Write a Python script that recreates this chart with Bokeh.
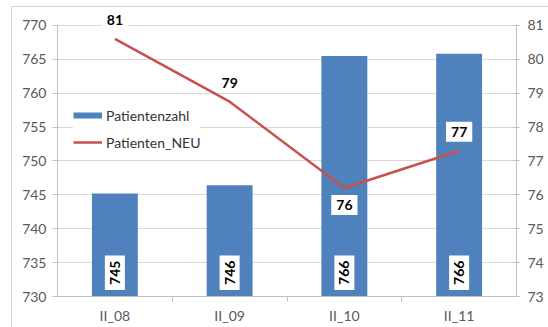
import numpy as np
from bokeh.plotting import figure
from bokeh.models import (ColumnDataSource, LinearAxis, Range1d, FixedTicker,
                          Label, Legend, LegendItem)
from bokeh.embed import file_html
from bokeh.resources import INLINE

# Quarterly patient figures
quarters = ["II_08", "II_09", "II_10", "II_11"]
patientenzahl = [745.2, 746.4, 765.5, 765.8]   # bars, left axis
patienten_neu = [80.6, 78.75, 76.2, 77.3]      # line, right axis

left_ticks = [730, 735, 740, 745, 750, 755, 760, 765, 770]
right_ticks = [73, 74, 75, 76, 77, 78, 79, 80, 81]

FONT = "Lato"
TICK_COLOR = "#595959"
AXIS_COLOR = "#bfbfbf"
GRID_COLOR = "#d9d9d9"
BAR_COLOR = "#4F81BD"
LINE_COLOR = "#C8504D"

# headroom above the top tick so the topmost value label stays inside the frame
HEAD = 2.05
left_top = left_ticks[-1] + HEAD
right_top = right_ticks[-1] + HEAD * (right_ticks[-1] - right_ticks[0]) / (left_ticks[-1] - left_ticks[0])

# category centres on a numeric axis so that ticks can sit between categories
xs = [i + 0.5 for i in range(len(quarters))]

src = ColumnDataSource(dict(x=xs, pz=patientenzahl, neu=patienten_neu))

p = figure(width=537, height=321,
           x_range=Range1d(0, len(quarters)),
           y_range=Range1d(left_ticks[0], left_top),
           output_backend="svg", toolbar_location=None,
           min_border_left=45, min_border_right=33,
           min_border_top=4, min_border_bottom=32)
p.margin = (6, 0, 0, 11)
p.styles = {"border-left": "1px solid #d4d4d4", "border-top": "1px solid #d4d4d4"}
p.outline_line_color = None
p.background_fill_color = "white"
p.border_fill_color = "white"

p.extra_y_ranges = {"neu": Range1d(right_ticks[0], right_top)}

bars = p.vbar(x="x", top="pz", bottom=left_ticks[0], width=0.4,
              source=src, fill_color=BAR_COLOR, line_color=None)
line = p.line(x="x", y="neu", y_range_name="neu", source=src,
              line_color=LINE_COLOR, line_width=2.5)

# grid
p.xgrid.visible = False
p.ygrid.grid_line_color = GRID_COLOR
p.ygrid.ticker = FixedTicker(ticks=left_ticks)

# left axis
yl = p.yaxis[0]
yl.ticker = FixedTicker(ticks=left_ticks)
yl.bounds = (left_ticks[0], left_ticks[-1])
yl.axis_line_color = AXIS_COLOR
yl.major_tick_line_color = AXIS_COLOR
yl.major_tick_in = 0
yl.major_tick_out = 5
yl.minor_tick_line_color = None
yl.major_label_text_font = FONT
yl.major_label_text_font_size = "14px"
yl.major_label_text_color = TICK_COLOR
yl.major_label_standoff = 6

# right axis
yr = LinearAxis(y_range_name="neu", ticker=FixedTicker(ticks=right_ticks))
yr.bounds = (right_ticks[0], right_ticks[-1])
yr.axis_line_color = AXIS_COLOR
yr.major_tick_line_color = AXIS_COLOR
yr.major_tick_in = 4
yr.major_tick_out = 3
yr.minor_tick_line_color = None
yr.major_label_text_font = FONT
yr.major_label_text_font_size = "14px"
yr.major_label_text_color = TICK_COLOR
yr.major_label_standoff = 8
p.add_layout(yr, "right")

# bottom axis: labels at centres, tick marks between categories
xa = p.xaxis[0]
xa.ticker = FixedTicker(ticks=xs, minor_ticks=[1, 2, 3])
xa.major_label_overrides = {x: q for x, q in zip(xs, quarters)}
xa.axis_line_color = AXIS_COLOR
xa.major_tick_line_color = None
xa.minor_tick_line_color = AXIS_COLOR
xa.minor_tick_in = 0
xa.minor_tick_out = 5
xa.major_label_text_font = FONT
xa.major_label_text_font_size = "14px"
xa.major_label_text_color = TICK_COLOR
xa.major_label_standoff = 4

label_style = dict(text_align="center", text_baseline="middle",
                   text_font=FONT, text_font_style="bold", text_font_size="14px",
                   text_color="black", background_fill_color="white")

# bar value labels, rotated, near the foot of each bar
for x, v in zip(xs, patientenzahl):
    p.add_layout(Label(x=x, y=733.5, text=f"{v:.0f}", angle=np.pi / 2,
                       padding=5, **label_style))

# line value labels, above each point except the third (below)
for i, (x, v) in enumerate(zip(xs, patienten_neu)):
    p.add_layout(Label(x=x, y=v, y_range_name="neu", text=f"{v:.0f}",
                       y_offset=(-17 if i == 2 else 19),
                       padding=5, **label_style))

# legend swatch for the bars: a short thick bar-coloured stroke
swatch = p.line(x=[np.nan, np.nan], y=[np.nan, np.nan],
                line_color=BAR_COLOR, line_width=6, line_cap="butt")

legend = Legend(items=[LegendItem(label="Patientenzahl", renderers=[swatch]),
                       LegendItem(label="Patienten_NEU", renderers=[line])],
                location=(16, 144))
legend.border_line_color = None
legend.background_fill_color = "white"
legend.background_fill_alpha = 1
legend.label_text_font = FONT
legend.label_text_font_size = "14px"
legend.label_text_color = "#333333"
legend.glyph_width = 29
legend.glyph_height = 20
legend.label_height = 20
legend.label_standoff = 4
legend.spacing = 7
legend.padding = 6
legend.margin = 0
p.add_layout(legend)

open("out.html", "w").write(file_html(p, INLINE))
